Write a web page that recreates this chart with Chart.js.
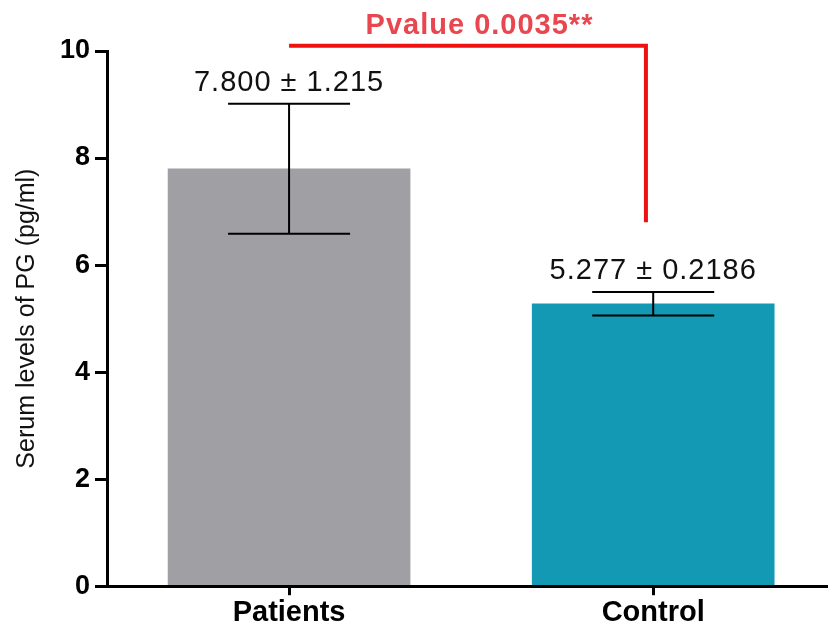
<!DOCTYPE html>
<html>
<head>
<meta charset="utf-8">
<script src="https://cdn.jsdelivr.net/npm/chart.js@4/dist/chart.umd.min.js"></script>
<style>
  html, body { margin: 0; padding: 0; background: #fff; }
  #chart { display: block; }
</style>
</head>
<body>
<canvas id="chart" width="828" height="630"></canvas>
<script>
// data
const categories = ["Patients", "Control"];
const means = [7.800, 5.277];
const sems = [1.215, 0.2186];
const meanLabels = ["7.800 ± 1.215", "5.277 ± 0.2186"];
const yTicks = [0, 2, 4, 6, 8, 10];
const pvalueText = "Pvalue 0.0035**";
const bracketY = 10.1;      // top of the significance bracket
const bracketDrop = 6.8;    // where the right leg stops
const bracketFrom = 0;      // over Patients
const bracketTo = 0.98;     // over Control

const FONT = "'Liberation Sans', Arial, sans-serif";

// error bars + mean ± sem labels
const errorBars = {
  id: "errorBars",
  afterDatasetsDraw(chart) {
    const { ctx, scales: { x, y } } = chart;
    ctx.save();
    ctx.strokeStyle = "#000";
    ctx.lineWidth = 2;
    means.forEach((m, i) => {
      const cx = x.getPixelForValue(i);
      const top = y.getPixelForValue(m + sems[i]);
      const bot = y.getPixelForValue(m - sems[i]);
      const half = 61;
      ctx.beginPath();
      ctx.moveTo(cx, top); ctx.lineTo(cx, bot);
      ctx.moveTo(cx - half, top); ctx.lineTo(cx + half, top);
      ctx.moveTo(cx - half, bot); ctx.lineTo(cx + half, bot);
      ctx.stroke();

      ctx.fillStyle = "#111";
      ctx.font = "29px " + FONT;
      ctx.letterSpacing = "1px";
      ctx.textAlign = "center";
      ctx.textBaseline = "alphabetic";
      ctx.fillText(meanLabels[i], cx, top - 13);
    });
    ctx.restore();
  }
};

// red p-value bracket
const bracket = {
  id: "bracket",
  afterDraw(chart) {
    const { ctx, scales: { x, y } } = chart;
    const x0 = x.getPixelForValue(bracketFrom);
    const x1 = x.getPixelForValue(bracketTo);
    const yTop = y.getPixelForValue(bracketY);
    const yBot = y.getPixelForValue(bracketDrop);
    ctx.save();
    ctx.strokeStyle = "#ee1111";
    ctx.lineWidth = 4;
    ctx.lineCap = "butt";
    ctx.beginPath();
    ctx.moveTo(x0, yTop);
    ctx.lineTo(x1 + 2, yTop);
    ctx.moveTo(x1, yTop - 2);
    ctx.lineTo(x1, yBot);
    ctx.stroke();

    ctx.fillStyle = "#e8474f";
    ctx.font = "bold 29px " + FONT;
    ctx.letterSpacing = "1px";
    ctx.textAlign = "center";
    ctx.textBaseline = "alphabetic";
    ctx.fillText(pvalueText, (x0 + x1) / 2 + 12, yTop - 12);
    ctx.restore();
  }
};

new Chart(document.getElementById("chart"), {
  type: "bar",
  data: {
    datasets: [{
      data: means.map((v, i) => ({ x: i, y: v })),
      backgroundColor: ["#a09fa4", "#1399b4"],
      borderWidth: 0,
      barThickness: 242
    }]
  },
  options: {
    responsive: false,
    animation: false,
    layout: { padding: { top: 51, right: 0, bottom: 0, left: 0 } },
    plugins: { legend: { display: false }, tooltip: { enabled: false } },
    scales: {
      x: {
        type: "linear",
        offset: false,
        min: -0.5,
        max: 1.48,
        afterBuildTicks: (axis) => { axis.ticks = categories.map((c, i) => ({ value: i })); },
        ticks: {
          callback: (v) => categories[v],
          color: "#000",
          font: { family: FONT, size: 29, weight: "bold" },
          maxRotation: 0,
          autoSkip: false,
          padding: 0
        },
        grid: { offset: false, drawOnChartArea: false, drawTicks: true, tickLength: 9, lineWidth: 3, color: "#000" },
        border: { display: true, width: 3, color: "#000" }
      },
      y: {
        min: 0,
        max: 10,
        afterBuildTicks: (axis) => { axis.ticks = yTicks.map((v) => ({ value: v })); },
        afterFit: (axis) => { axis.width = 107; },
        ticks: {
          color: "#000",
          font: { family: FONT, size: 27, weight: "bold" },
          padding: 5
        },
        grid: { drawOnChartArea: false, drawTicks: true, tickLength: 12, lineWidth: 3, color: "#000" },
        border: { display: true, width: 3, color: "#000" },
        title: {
          display: true,
          text: "Serum levels of PG (pg/ml)",
          color: "#111",
          font: { family: FONT, size: 25 },
          padding: { top: 12, bottom: 0 }
        }
      }
    }
  },
  plugins: [errorBars, bracket]
});
</script>
</body>
</html>
